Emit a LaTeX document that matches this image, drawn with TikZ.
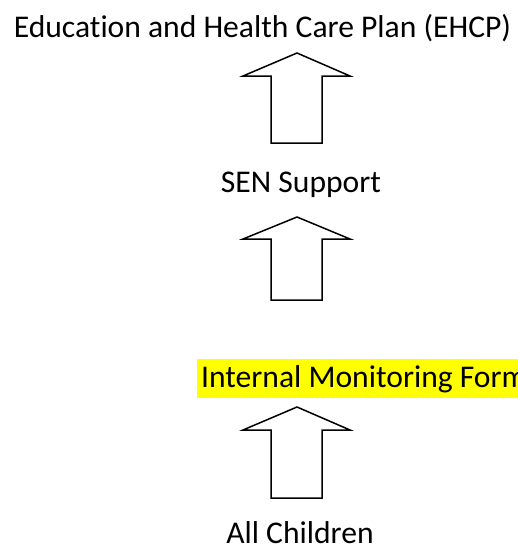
\documentclass[tikz,border=0pt]{standalone}
\usepackage{fontspec}
\setmainfont{Carlito}[Ligatures=NoCommon]
\definecolor{hl}{HTML}{FFFF00}
\newcommand\blockarrow[3]{%
  \draw[uparrow] (297,#1) -- (350,#2) -- (322,#2) -- (322,#3) -- (271,#3) -- (271,#2) -- (243,#2) -- cycle;}
\begin{document}
\begin{tikzpicture}[x=1pt,y=-1pt,
  lbl/.style={font=\fontsize{31.6}{38}\selectfont, inner sep=0pt, anchor=base},
  uparrow/.style={draw=black, line width=1.5pt, fill=white, line join=miter}]
\useasboundingbox (0,0) rectangle (518,547);
\clip (0,0) rectangle (518,547);
\node[lbl] (ehcp) at (262.5,37) {Education and Health Care Plan (EHCP)};
\node[lbl] (sen) at (301,192) {SEN Support};
\node[lbl, anchor=base west, fill=hl, inner xsep=4pt, inner ysep=0pt, text height=28pt, text depth=11pt] (imf) at (197,387) {Internal Monitoring Form};
\node[lbl] (all) at (300,543) {All Children};
\blockarrow{53}{76}{143}
\blockarrow{217}{239}{300}
\blockarrow{407}{430}{498}
\end{tikzpicture}
\end{document}
